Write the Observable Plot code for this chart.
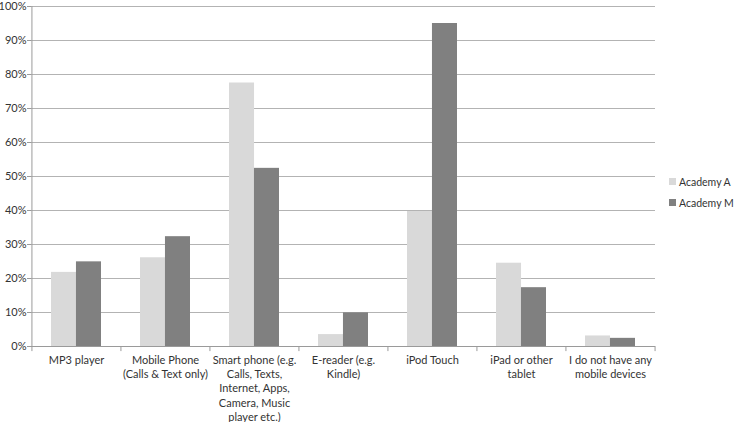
<!DOCTYPE html>
<html>
<head>
<meta charset="utf-8">
<script src="https://cdn.jsdelivr.net/npm/d3@7"></script>
<script src="https://cdn.jsdelivr.net/npm/@observablehq/plot@0.6"></script>
<style>
  body { margin: 0; background: #fff; font-family: Lato, "Open Sans", sans-serif; }
  #wrap { position: relative; width: 737px; height: 422px; }
  #legend { position: absolute; left: 669px; top: 171px; font-size: 10.5px; color: #333; white-space: nowrap; }
  #legend .row { display: flex; align-items: center; height: 21px; }
  #legend .sw { width: 7px; height: 7px; margin-right: 3px; flex: none; }
</style>
</head>
<body>
<div id="wrap">
  <div id="chart"></div>
  <div id="legend"></div>
</div>
<script>
const categories = [
  "MP3 player",
  "Mobile Phone\n(Calls & Text only)",
  "Smart phone (e.g.\nCalls, Texts,\nInternet, Apps,\nCamera, Music\nplayer etc.)",
  "E-reader (e.g.\nKindle)",
  "iPod Touch",
  "iPad or other\ntablet",
  "I do not have any\nmobile devices"
];
const seriesNames = ["Academy A", "Academy M"];
const seriesColors = ["#d9d9d9", "#808080"];
const academyA = [0.218, 0.261, 0.775, 0.035, 0.397, 0.245, 0.031];
const academyM = [0.249, 0.323, 0.524, 0.099, 0.950, 0.173, 0.024];
const yTicks = [0, 0.1, 0.2, 0.3, 0.4, 0.5, 0.6, 0.7, 0.8, 0.9, 1.0];

const dataA = categories.map((c, i) => ({category: c, value: academyA[i]}));
const dataM = categories.map((c, i) => ({category: c, value: academyM[i]}));

const width = 737, height = 422;
const marginLeft = 31, marginRight = 82, marginTop = 6, marginBottom = 76;
const step = (width - marginLeft - marginRight) / categories.length;
const half = step * 0.56 / 2;

const chart = Plot.plot({
  width, height, marginLeft, marginRight, marginTop, marginBottom,
  style: {fontFamily: "Lato, 'Open Sans', sans-serif", fontSize: "11px", color: "#333", background: "#fff"},
  x: {domain: categories, paddingInner: 0.44, paddingOuter: 0.22, label: null},
  y: {domain: [0, 1], label: null},
  marks: [
    Plot.ruleY(yTicks.slice(1), {stroke: "#b3b3b3", strokeWidth: 1}),
    Plot.barY(dataA, {x: "category", y: "value", fill: seriesColors[0], insetRight: half}),
    Plot.barY(dataM, {x: "category", y: "value", fill: seriesColors[1], insetLeft: half}),
    Plot.ruleY([0], {stroke: "#9a9a9a"}),
    Plot.ruleX([0], {x: () => categories[0], dx: -step / 2, y1: -0.015, y2: 1, stroke: "#9a9a9a"}),
    Plot.ruleX(categories.slice(1), {x: d => d, dx: -step / 2, y1: 0, y2: -0.015, stroke: "#9a9a9a"}),
    Plot.ruleX([categories[categories.length - 1]], {x: d => d, dx: step / 2, y1: 0, y2: -0.015, stroke: "#9a9a9a"}),
    Plot.axisY({ticks: yTicks, tickFormat: d3.format(".0%"), tickSize: 4, tickPadding: 1, stroke: "#9a9a9a", fill: "#333"}),
    Plot.axisX({tickSize: 0, tickPadding: 7, lineHeight: 1.3, fill: "#333", textOverflow: null})
  ]
});
document.getElementById("chart").appendChild(chart);

const legend = document.getElementById("legend");
seriesNames.forEach((name, i) => {
  const row = document.createElement("div");
  row.className = "row";
  const sw = document.createElement("span");
  sw.className = "sw";
  sw.style.background = seriesColors[i];
  const t = document.createElement("span");
  t.textContent = name;
  row.appendChild(sw);
  row.appendChild(t);
  legend.appendChild(row);
});
</script>
</body>
</html>
